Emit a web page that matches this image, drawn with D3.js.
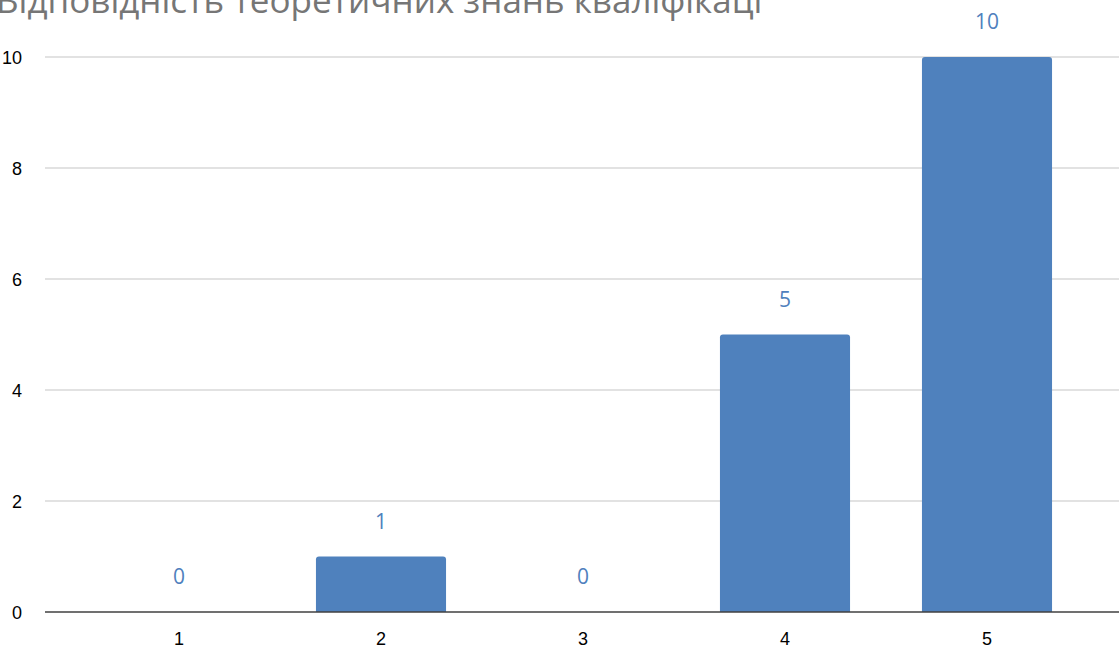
<!DOCTYPE html>
<html>
<head>
<meta charset="utf-8">
<script src="https://cdn.jsdelivr.net/npm/d3@7"></script>
<style>
  body { margin: 0; background: #fff; }
  svg { display: block; }
  .axis text { font-family: "Liberation Sans", "Noto Sans", sans-serif; font-size: 18px; fill: #000; }
</style>
</head>
<body>
<div id="chart"></div>
<script>
// chart data
var title = "Відповідність теоретичних знань кваліфікаці";
var categories = ["1", "2", "3", "4", "5"];
var values = [0, 1, 0, 5, 10];
var yTicks = [0, 2, 4, 6, 8, 10];

var w = 1119,
    h = 652,
    plotLeft = 45,
    plotTop = 57,
    plotBottom = 612;

var svg = d3.select("#chart")
    .append("svg")
    .attr("width", w)
    .attr("height", h);

// title, clipped at the top like the reference
svg.append("text")
    .attr("x", -4)
    .attr("y", 13)
    .attr("font-family", "Open Sans, Noto Sans, sans-serif")
    .attr("font-size", 35)
    .attr("fill", "#767676")
    .text(title);

var yScale = d3.scaleLinear().domain([0, 10]).range([plotBottom, plotTop]);
var xScale = d3.scaleBand().domain(categories)
    .range([78, 1088])
    .paddingInner(0.356)
    .paddingOuter(0.178);

// gridlines
var grid = svg.append("g");
yTicks.forEach(function(t) {
    if (t == 0) return;
    grid.append("line")
        .attr("x1", plotLeft)
        .attr("x2", w)
        .attr("y1", yScale(t))
        .attr("y2", yScale(t))
        .attr("stroke", "#d9d9d9")
        .attr("stroke-width", 1.5);
});

var yAxis = d3.axisLeft(yScale)
    .tickValues(yTicks)
    .tickSize(0)
    .tickPadding(0);

svg.append("g")
    .attr("class", "axis")
    .attr("transform", "translate(22, 0)")
    .call(yAxis)
    .call(function(g) { g.select(".domain").remove(); })
    .selectAll("text")
    .attr("dy", "0.35em");

// bars with slightly rounded tops
var r = 3;
svg.append("g").selectAll("path.bar")
    .data(values.map(function(v, i) { return {cat: categories[i], v: v}; }))
    .enter()
    .append("path")
    .attr("class", "bar")
    .attr("fill", "#4f81bd")
    .attr("d", function(d) {
        if (d.v <= 0) return "";
        var x = xScale(d.cat),
            bw = xScale.bandwidth(),
            y = yScale(d.v),
            y0 = yScale(0);
        return "M" + x + "," + y0 +
            " V" + (y + r) +
            " Q" + x + "," + y + " " + (x + r) + "," + y +
            " H" + (x + bw - r) +
            " Q" + (x + bw) + "," + y + " " + (x + bw) + "," + (y + r) +
            " V" + y0 + " Z";
    });

// value labels
svg.append("g").selectAll("text")
    .data(values)
    .enter()
    .append("text")
    .attr("x", function(d, i) { return xScale(categories[i]) + xScale.bandwidth() / 2; })
    .attr("y", function(d) { return yScale(d) - 28; })
    .attr("text-anchor", "middle")
    .attr("font-family", "Open Sans, Noto Sans, sans-serif")
    .attr("font-size", 21)
    .attr("fill", "#4f81bd")
    .text(function(d) { return d; });

// x axis
var xAxis = d3.axisBottom(xScale)
    .tickSize(0)
    .tickPadding(20);

var xg = svg.append("g")
    .attr("class", "axis")
    .attr("transform", "translate(0, " + plotBottom + ")")
    .call(xAxis);
xg.select(".domain").remove();
xg.append("line")
    .attr("x1", plotLeft)
    .attr("x2", w)
    .attr("stroke", "#404040")
    .attr("stroke-width", 1.5);
</script>
</body>
</html>
